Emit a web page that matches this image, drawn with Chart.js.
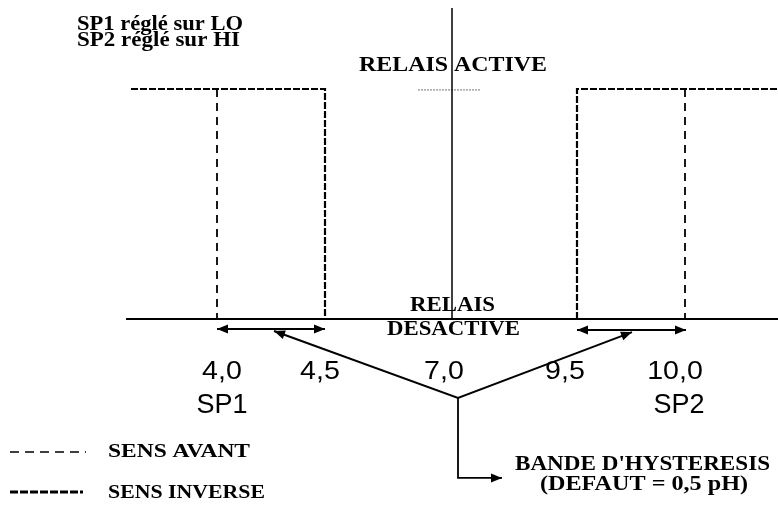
<!DOCTYPE html>
<html>
<head>
<meta charset="utf-8">
<script src="https://cdn.jsdelivr.net/npm/chart.js@4.4.0/dist/chart.umd.min.js"></script>
<style>
  html, body { margin: 0; padding: 0; background: #fff; }
  #wrap { width: 778px; height: 509px; }
</style>
</head>
<body>
<div id="wrap"><canvas id="myChart" width="778" height="509"></canvas></div>
<script>
// x = position along the diagram, y = relay state (0 = desactive, 1 = active)
const axisX = [126, 778];
const axisY = [0, 0];
const centreX = [452, 452];
const centreY = [0, 1.352];
const markX = [418, 480];
const markY = [0.996, 0.996];
const sp1InverseX = [131, 325, 325];
const sp1InverseY = [1, 1, 0];
const sp1AvantX = [217, 217];
const sp1AvantY = [1, 0];
const sp2InverseX = [577, 577, 778];
const sp2InverseY = [0, 1, 1];
const sp2AvantX = [685, 685];
const sp2AvantY = [1, 0];
const band1X = [217, 325];
const band1Y = [-0.043, -0.043];
const band2X = [577, 686];
const band2Y = [-0.048, -0.048];
const pointerX = [274, 458, 632];
const pointerY = [-0.052, -0.343, -0.057];
const bracketX = [458, 458, 502];
const bracketY = [-0.343, -0.691, -0.691];

const tickLabels = ['4,0', '4,5', '7,0', '9,5', '10,0'];
const tickPos = [222, 320, 444, 565, 675];
const spLabels = ['SP1', 'SP2'];
const spPos = [222, 679];

const DASH_AVANT = [8, 6];
const DASH_INVERSE = [7, 2];

function pts(xs, ys) {
    return xs.map((x, i) => ({ x: x, y: ys[i] }));
}
function line(xs, ys, style) {
    return Object.assign({
        data: pts(xs, ys),
        showLine: true,
        pointRadius: 0,
        borderColor: '#000',
        borderWidth: 2,
        fill: false,
        tension: 0
    }, style);
}

function arrowHead(ctx, from, tip) {
    var ang = Math.atan2(tip.y - from.y, tip.x - from.x);
    var len = 11, half = 4.5;
    ctx.save();
    ctx.translate(tip.x, tip.y);
    ctx.rotate(ang);
    ctx.beginPath();
    ctx.moveTo(0, 0);
    ctx.lineTo(-len, -half);
    ctx.lineTo(-len, half);
    ctx.closePath();
    ctx.fillStyle = '#000';
    ctx.fill();
    ctx.restore();
}

const arrowPlugin = {
    id: 'arrows',
    afterDatasetsDraw(chart) {
        var ctx = chart.ctx;
        chart.data.datasets.forEach((ds, i) => {
            if (!ds.arrows) return;
            var p = chart.getDatasetMeta(i).data;
            if (ds.arrows.start) arrowHead(ctx, p[1], p[0]);
            if (ds.arrows.end) arrowHead(ctx, p[p.length - 2], p[p.length - 1]);
        });
    }
};

function drawText(ctx, text, x, y, font, width, align) {
    ctx.font = font;
    var w = ctx.measureText(text).width;
    ctx.save();
    ctx.translate(x, y);
    ctx.scale(width / w, 1);
    ctx.textAlign = align || 'left';
    ctx.textBaseline = 'alphabetic';
    ctx.fillStyle = '#000';
    ctx.fillText(text, 0, 0);
    ctx.restore();
}

const SERIF = '"Liberation Serif", "Times New Roman", serif';
const SANS = '"Liberation Sans", Arial, sans-serif';

const textPlugin = {
    id: 'texts',
    afterDraw(chart) {
        var ctx = chart.ctx;
        var xs = chart.scales.x;
        drawText(ctx, 'SP1 réglé sur LO', 77, 30, 'bold 20px ' + SERIF, 166);
        drawText(ctx, 'SP2 réglé sur HI', 77, 46, 'bold 20px ' + SERIF, 163);
        drawText(ctx, 'RELAIS ACTIVE', 359, 71, 'bold 22px ' + SERIF, 188);
        drawText(ctx, 'RELAIS', 410, 311, 'bold 20px ' + SERIF, 85);
        drawText(ctx, 'DESACTIVE', 387, 335, 'bold 20px ' + SERIF, 133);
        drawText(ctx, 'SENS AVANT', 108, 457, 'bold 19px ' + SERIF, 142);
        drawText(ctx, 'SENS INVERSE', 108, 498, 'bold 19px ' + SERIF, 157);
        drawText(ctx, "BANDE D'HYSTERESIS", 515, 470, 'bold 22px ' + SERIF, 255);
        drawText(ctx, '(DEFAUT = 0,5 pH)', 540, 490, 'bold 22px ' + SERIF, 208);

        ctx.font = '26px ' + SANS;
        tickLabels.forEach((t, i) => {
            var w = ctx.measureText(t).width;
            drawText(ctx, t, xs.getPixelForValue(tickPos[i]), 379, '26px ' + SANS, w * 1.1, 'center');
        });
        ctx.font = '27px ' + SANS;
        spLabels.forEach((t, i) => {
            var w = ctx.measureText(t).width;
            drawText(ctx, t, xs.getPixelForValue(spPos[i]), 413, '27px ' + SANS, w, 'center');
        });

        // legend samples
        ctx.save();
        ctx.strokeStyle = '#000';
        ctx.lineWidth = 1.5;
        ctx.setLineDash([9, 6]);
        ctx.beginPath();
        ctx.moveTo(10, 452);
        ctx.lineTo(86, 452);
        ctx.stroke();
        ctx.lineWidth = 3;
        ctx.setLineDash([8, 2]);
        ctx.beginPath();
        ctx.moveTo(10, 492);
        ctx.lineTo(83, 492);
        ctx.stroke();
        ctx.restore();
    }
};

var ctx = document.getElementById('myChart');
var myChart = new Chart(ctx, {
    type: 'scatter',
    data: {
        datasets: [
            line(axisX, axisY, { borderWidth: 2 }),
            line(centreX, centreY, { borderWidth: 1.5 }),
            line(markX, markY, { borderWidth: 1, borderColor: '#777', borderDash: [2, 1] }),
            line(sp1InverseX, sp1InverseY, { borderWidth: 2.2, borderDash: DASH_INVERSE }),
            line(sp1AvantX, sp1AvantY, { borderWidth: 1.8, borderDash: DASH_AVANT }),
            line(sp2InverseX, sp2InverseY, { borderWidth: 2.2, borderDash: DASH_INVERSE }),
            line(sp2AvantX, sp2AvantY, { borderWidth: 1.8, borderDash: DASH_AVANT }),
            line(band1X, band1Y, { borderWidth: 2, arrows: { start: true, end: true } }),
            line(band2X, band2Y, { borderWidth: 2, arrows: { start: true, end: true } }),
            line(pointerX, pointerY, { borderWidth: 2, arrows: { start: true, end: true } }),
            line(bracketX, bracketY, { borderWidth: 1.8, arrows: { end: true } })
        ]
    },
    options: {
        responsive: false,
        animation: false,
        layout: { padding: 0 },
        plugins: {
            legend: { display: false },
            tooltip: { enabled: false }
        },
        scales: {
            x: { type: 'linear', display: false, min: 0, max: 778 },
            y: { type: 'linear', display: false, min: -0.8261, max: 1.3870 }
        }
    },
    plugins: [arrowPlugin, textPlugin]
});
</script>
</body>
</html>
